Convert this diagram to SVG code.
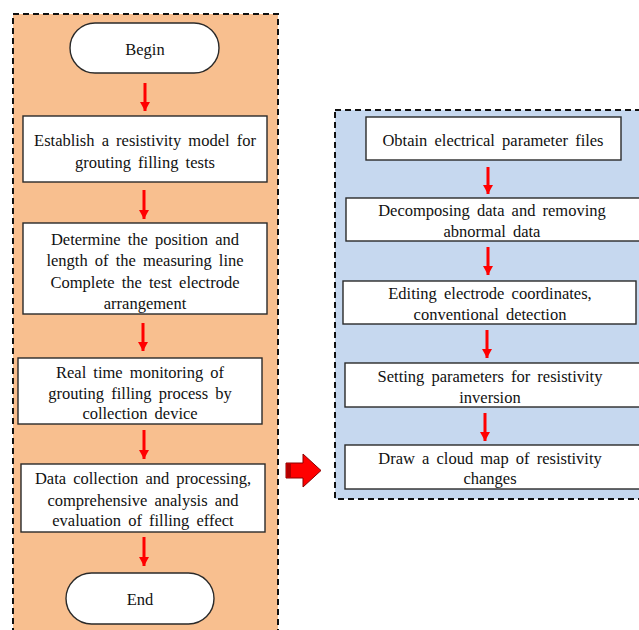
<svg xmlns="http://www.w3.org/2000/svg" width="639" height="630" viewBox="0 0 639 630">
<defs>
<style>
.panel{stroke:#111;stroke-width:2;stroke-dasharray:6 4}
.box{fill:#fff;stroke:#2a2a2a;stroke-width:1.4}
.t{font-size:16.5px;word-spacing:3px;fill:#111;text-anchor:middle}
.a{stroke:#f00;stroke-width:3;fill:none}
</style>
<marker id="ah" markerUnits="userSpaceOnUse" markerWidth="12" markerHeight="12" refX="9" refY="5" orient="auto">
<path d="M0,0 L9,5 L0,10 Z" fill="#f00"/>
</marker>
</defs>
<rect width="639" height="630" fill="#fff"/>
<rect class="panel" x="13" y="14" width="265" height="630" fill="#F8BF8F"/>
<rect class="panel" x="335" y="110" width="320" height="389" fill="#C6D8EF"/>
<g font-family="Liberation Serif, Times New Roman, serif">
<g id="begin"><rect class="box" x="70" y="23" width="149" height="50" rx="25"/><text class="t" x="145" y="55">Begin</text></g>
<g id="step1"><rect class="box" x="23" y="116" width="244" height="66"/><text class="t" x="145" y="145.5">Establish a resistivity model for</text><text class="t" x="145" y="167.5">grouting filling tests</text></g>
<g id="step2"><rect class="box" x="23" y="223" width="244" height="91"/><text class="t" x="145" y="244.5">Determine the position and</text><text class="t" x="145" y="265.5">length of the measuring line</text><text class="t" x="145" y="287.5">Complete the test electrode</text><text class="t" x="145" y="308.5">arrangement</text></g>
<g id="step3"><rect class="box" x="18" y="358" width="244" height="66"/><text class="t" x="140" y="377.5">Real time monitoring of</text><text class="t" x="140" y="398.5">grouting filling process by</text><text class="t" x="140" y="418.5">collection device</text></g>
<g id="step4"><rect class="box" x="21" y="464" width="244" height="68"/><text class="t" x="143" y="483.5">Data collection and processing,</text><text class="t" x="143" y="505.5">comprehensive analysis and</text><text class="t" x="143" y="525.5">evaluation of filling effect</text></g>
<g id="end"><rect class="box" x="66" y="573" width="148" height="51" rx="25.5"/><text class="t" x="140" y="605">End</text></g>

<g id="r1"><rect class="box" x="366" y="117" width="255" height="43"/><text class="t" x="493" y="145.5">Obtain electrical parameter files</text></g>
<g id="r2"><rect class="box" x="346" y="198" width="300" height="43"/><text class="t" x="492" y="215.5">Decomposing data and removing</text><text class="t" x="492" y="236.5">abnormal data</text></g>
<g id="r3"><rect class="box" x="343" y="281" width="293" height="43"/><text class="t" x="490" y="298.5">Editing electrode coordinates,</text><text class="t" x="490" y="319.5">conventional detection</text></g>
<g id="r4"><rect class="box" x="345" y="363" width="300" height="44"/><text class="t" x="490" y="381.5">Setting parameters for resistivity</text><text class="t" x="490" y="402.5">inversion</text></g>
<g id="r5"><rect class="box" x="345" y="445" width="300" height="44"/><text class="t" x="490" y="463.5">Draw a cloud map of resistivity</text><text class="t" x="490" y="483.5">changes</text></g>
</g>
<g id="connectors">
<path class="a" d="M145,83 V111" marker-end="url(#ah)"/>
<path class="a" d="M144,190 V219" marker-end="url(#ah)"/>
<path class="a" d="M143,323 V351" marker-end="url(#ah)"/>
<path class="a" d="M144,430 V459" marker-end="url(#ah)"/>
<path class="a" d="M144,537 V566" marker-end="url(#ah)"/>
<path class="a" d="M488,167 V194" marker-end="url(#ah)"/>
<path class="a" d="M488,247 V275" marker-end="url(#ah)"/>
<path class="a" d="M487,330 V358" marker-end="url(#ah)"/>
<path class="a" d="M485,413 V441" marker-end="url(#ah)"/>
<g id="bigarrow">
<path d="M286,463 H303 V454 L321,470.5 L303,487 V478 H286 Z" fill="#f00" stroke="#8a0000" stroke-width="1"/>
<rect x="287" y="463.5" width="4" height="14" fill="#b00000"/>
</g>
</g>
</svg>
